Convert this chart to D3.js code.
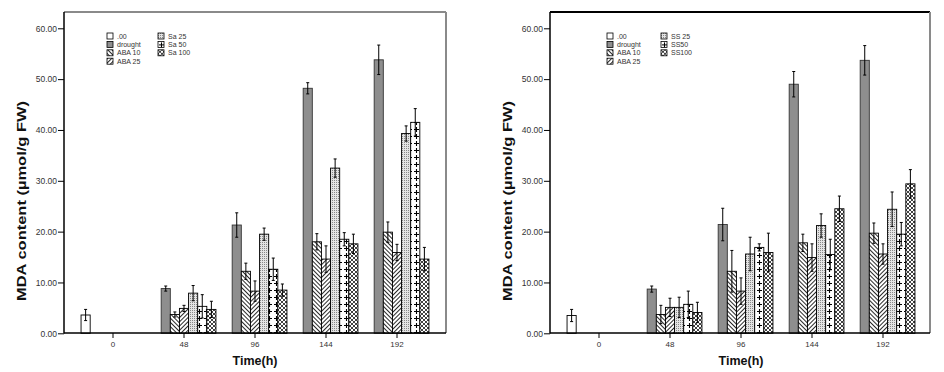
<!DOCTYPE html>
<html>
<head>
<meta charset="utf-8">
<script src="https://cdn.jsdelivr.net/npm/d3@7/dist/d3.min.js"></script>
<style>
  body { margin: 0; background: #fff; }
  svg { display: block; font-family: "Liberation Sans", Arial, sans-serif; }
</style>
</head>
<body>
<svg id="chart" width="944" height="372"></svg>
<script>
// categories
const times = ["0", "48", "96", "144", "192"];
const yTicks = [0, 10, 20, 30, 40, 50, 60];

// left panel (Sa treatments)
const leftNames = [".00", "drought", "ABA 10", "ABA 25", "Sa 25", "Sa 50", "Sa 100"];
const left00 = [3.6, null, null, null, null];
const left00Err = [1.1, null, null, null, null];
const leftDrought = [null, 8.8, 21.3, 48.2, 53.8];
const leftDroughtErr = [null, 0.5, 2.4, 1.1, 2.9];
const leftAba10 = [null, 3.7, 12.2, 18.0, 19.9];
const leftAba10Err = [null, 0.5, 1.6, 1.6, 2.0];
const leftAba25 = [null, 4.9, 8.3, 14.6, 15.9];
const leftAba25Err = [null, 0.6, 2.0, 2.6, 1.6];
const leftSa25 = [null, 7.9, 19.5, 32.5, 39.3];
const leftSa25Err = [null, 1.5, 1.2, 1.8, 1.5];
const leftSa50 = [null, 5.3, 12.6, 18.5, 41.5];
const leftSa50Err = [null, 2.3, 2.2, 1.3, 2.7];
const leftSa100 = [null, 4.7, 8.5, 17.6, 14.6];
const leftSa100Err = [null, 1.6, 1.2, 1.9, 2.3];

// right panel (SS treatments)
const rightNames = [".00", "drought", "ABA 10", "ABA 25", "SS 25", "SS50", "SS100"];
const right00 = [3.5, null, null, null, null];
const right00Err = [1.2, null, null, null, null];
const rightDrought = [null, 8.7, 21.4, 49.0, 53.7];
const rightDroughtErr = [null, 0.6, 3.2, 2.5, 2.9];
const rightAba10 = [null, 3.7, 12.2, 17.8, 19.7];
const rightAba10Err = [null, 1.8, 4.1, 1.7, 2.0];
const rightAba25 = [null, 5.1, 8.3, 14.9, 15.6];
const rightAba25Err = [null, 1.8, 2.6, 2.7, 2.0];
const rightSs25 = [null, 5.1, 15.6, 21.2, 24.4];
const rightSs25Err = [null, 2.0, 3.3, 2.3, 3.4];
const rightSs50 = [null, 5.7, 16.9, 15.5, 19.5];
const rightSs50Err = [null, 2.6, 0.7, 3.0, 2.3];
const rightSs100 = [null, 4.1, 15.9, 24.5, 29.4];
const rightSs100Err = [null, 2.0, 3.8, 2.5, 2.8];

const fills = ["#fff", "#8e8e8e", "url(#pBack)", "url(#pFwd)", "url(#pDots)", "url(#pPlus)", "url(#pCross)"];

const svg = d3.select("#chart");

// patterns
const defs = svg.append("defs");

function linePattern(id, angle) {
  const p = defs.append("pattern").attr("id", id)
    .attr("patternUnits", "userSpaceOnUse")
    .attr("width", 3).attr("height", 3)
    .attr("patternTransform", `rotate(${angle})`);
  p.append("rect").attr("width", 3).attr("height", 3).attr("fill", "#fff");
  p.append("line").attr("x1", 0.5).attr("y1", 0).attr("x2", 0.5).attr("y2", 3)
    .attr("stroke", "#111").attr("stroke-width", 0.9);
}
linePattern("pBack", -45);
linePattern("pFwd", 45);

const dots = defs.append("pattern").attr("id", "pDots")
  .attr("patternUnits", "userSpaceOnUse").attr("width", 2).attr("height", 2);
dots.append("rect").attr("width", 2).attr("height", 2).attr("fill", "#e4e4e4");
dots.append("rect").attr("width", 1).attr("height", 1).attr("fill", "#888");

const plus = defs.append("pattern").attr("id", "pPlus")
  .attr("patternUnits", "userSpaceOnUse").attr("width", 7).attr("height", 7);
plus.append("rect").attr("width", 7).attr("height", 7).attr("fill", "#fff");
plus.append("path").attr("d", "M3.5,1V6M1,3.5H6").attr("stroke", "#000").attr("stroke-width", 1.1);

const cross = defs.append("pattern").attr("id", "pCross")
  .attr("patternUnits", "userSpaceOnUse").attr("width", 4).attr("height", 4);
cross.append("rect").attr("width", 4).attr("height", 4).attr("fill", "#fff");
cross.append("path").attr("d", "M0,0L4,4M4,0L0,4").attr("stroke", "#111").attr("stroke-width", 0.8);

function drawPanel(cfg) {
  const ax = cfg.axisX, rightEdge = cfg.rightEdge;
  const top = 12, bottom = 333;
  const g = svg.append("g");

  const y = d3.scaleLinear().domain([0, 60]).range([333.3, 28.3]);
  const x0 = d3.scaleBand().domain(times)
    .range([ax + 13.5, ax + 368.5]).paddingInner(0.1).paddingOuter(0.05);
  const x1 = d3.scaleBand().domain(d3.range(cfg.names.length)).range([0, x0.bandwidth()]);

  // frame
  g.append("line").attr("x1", ax).attr("x2", rightEdge).attr("y1", top).attr("y2", top)
    .attr("stroke", cfg.topColor).attr("stroke-width", 2);
  g.append("line").attr("x1", rightEdge).attr("x2", rightEdge).attr("y1", top).attr("y2", bottom)
    .attr("stroke", "#8a8a8a").attr("stroke-width", 2);

  // bars
  cfg.values.forEach((vals, si) => {
    times.forEach((t, ti) => {
      const v = vals[ti];
      if (v == null) return;
      const bx = x0(t) + x1(si);
      g.append("rect")
        .attr("x", bx).attr("y", y(v))
        .attr("width", x1.bandwidth()).attr("height", y(0) - y(v))
        .attr("fill", fills[si])
        .attr("stroke", si === 1 ? "#333" : "#000")
        .attr("stroke-width", 0.9);
      const e = cfg.errors[si][ti];
      const cx = bx + x1.bandwidth() / 2;
      const eg = g.append("g").attr("stroke", "#000").attr("stroke-width", 1);
      eg.append("line").attr("x1", cx).attr("x2", cx).attr("y1", y(v - e)).attr("y2", y(v + e));
      eg.append("line").attr("x1", cx - 1.5).attr("x2", cx + 1.5).attr("y1", y(v + e)).attr("y2", y(v + e));
      eg.append("line").attr("x1", cx - 1.5).attr("x2", cx + 1.5).attr("y1", y(v - e)).attr("y2", y(v - e));
    });
  });

  // y axis
  const yAxis = g.append("g").attr("transform", `translate(${ax},0)`)
    .call(d3.axisLeft(y).tickValues(yTicks).tickFormat(d3.format(".2f")).tickSize(6).tickPadding(1));
  yAxis.select(".domain").remove();
  yAxis.selectAll("line").attr("stroke", "#000");
  yAxis.selectAll("text").attr("font-size", 8.5).attr("fill", "#333");
  g.append("line").attr("x1", ax).attr("x2", ax).attr("y1", top).attr("y2", bottom + 0.5)
    .attr("stroke", "#000").attr("stroke-width", 1.5);

  // x axis
  const xAxis = g.append("g").attr("transform", `translate(0,${bottom})`)
    .call(d3.axisBottom(x0).tickSize(5).tickSizeOuter(0).tickPadding(3));
  xAxis.select(".domain").remove();
  xAxis.selectAll("line").attr("stroke", "#000");
  xAxis.selectAll("text").attr("font-size", 8).attr("fill", "#333");
  g.append("line").attr("x1", ax).attr("x2", rightEdge).attr("y1", bottom).attr("y2", bottom)
    .attr("stroke", "#000").attr("stroke-width", 1.5);

  // titles
  g.append("text").attr("x", x0("96") + x0.bandwidth() / 2).attr("y", 365)
    .attr("text-anchor", "middle").attr("font-size", 12.5).attr("font-weight", "bold")
    .attr("fill", "#111").text("Time(h)");
  g.append("text").attr("transform", `translate(${ax - 38},201) rotate(-90)`)
    .attr("text-anchor", "middle").attr("font-size", 12.5).attr("font-weight", "bold")
    .attr("fill", "#111").attr("textLength", 200).attr("lengthAdjust", "spacingAndGlyphs")
    .text("MDA content (\u00b5mol/g FW)");

  // legend
  const lg = g.append("g").attr("transform", `translate(${cfg.legendX},33)`);
  cfg.names.forEach((n, i) => {
    const col = i < 4 ? 0 : 1;
    const row = i < 4 ? i : i - 4;
    const it = lg.append("g").attr("transform", `translate(${col * cfg.legendCol},${row * 8.4})`);
    it.append("rect").attr("width", 6).attr("height", 6)
      .attr("fill", fills[i]).attr("stroke", "#000").attr("stroke-width", 0.8);
    it.append("text").attr("x", 10).attr("y", 5.5).attr("font-size", 7).attr("fill", "#333").text(n);
  });
}

drawPanel({
  axisX: 64, rightEdge: 446, topColor: "#8a8a8a",
  legendX: 107, legendCol: 51,
  names: leftNames,
  values: [left00, leftDrought, leftAba10, leftAba25, leftSa25, leftSa50, leftSa100],
  errors: [left00Err, leftDroughtErr, leftAba10Err, leftAba25Err, leftSa25Err, leftSa50Err, leftSa100Err]
});

drawPanel({
  axisX: 550, rightEdge: 930, topColor: "#000",
  legendX: 607, legendCol: 54,
  names: rightNames,
  values: [right00, rightDrought, rightAba10, rightAba25, rightSs25, rightSs50, rightSs100],
  errors: [right00Err, rightDroughtErr, rightAba10Err, rightAba25Err, rightSs25Err, rightSs50Err, rightSs100Err]
});
</script>
</body>
</html>
